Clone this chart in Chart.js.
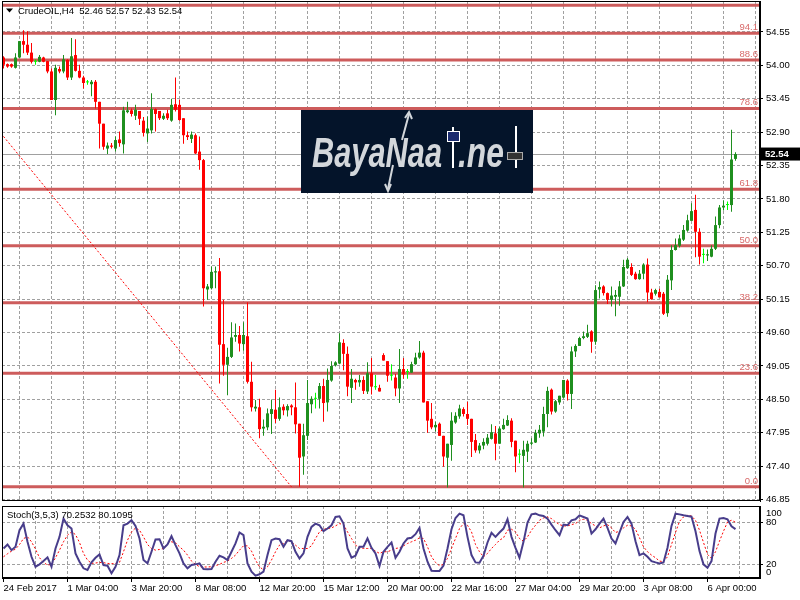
<!DOCTYPE html>
<html>
<head>
<meta charset="utf-8">
<script src="https://cdn.jsdelivr.net/npm/chart.js@4/dist/chart.umd.min.js"></script>
<style>
  html, body { margin: 0; padding: 0; background: #fff; }
  #wrap { position: relative; width: 800px; height: 600px; overflow: hidden; }
  #priceCanvas { position: absolute; left: 0; top: 0; }
  #stochCanvas { position: absolute; left: 0; top: 505px; background: #fff; }
</style>
</head>
<body>
<div id="wrap">
  <canvas id="priceCanvas" width="800" height="600"></canvas>
  <canvas id="stochCanvas" width="800" height="95"></canvas>
</div>
<script>
// CrudeOIL H4 candles, 24 Feb - 6 Apr 2017
const open = [
  54.13,54.02,54.02,53.96,54.13,54.40,54.34,54.21,54.06,54.06,
  54.13,54.07,53.90,53.43,53.94,53.90,54.09,53.80,54.17,53.91,
  53.80,53.72,53.69,53.73,53.40,53.04,52.63,52.68,52.63,52.78,
  52.70,53.23,53.26,53.17,53.25,53.09,52.88,52.93,53.28,53.25,
  53.12,53.21,53.09,53.36,53.35,53.13,52.85,52.79,52.85,52.58,
  52.44,50.31,50.33,50.59,50.61,49.41,49.07,49.20,49.53,49.56,
  49.41,49.54,48.79,48.35,48.37,48.02,48.04,48.26,48.33,48.18,
  48.38,48.32,48.40,48.37,48.10,47.56,47.90,48.42,48.51,48.51,
  48.72,48.45,48.81,49.06,49.09,49.43,49.25,48.69,48.82,48.78,
  48.82,48.63,48.93,48.70,48.69,49.23,49.13,48.89,48.86,48.68,
  49.00,48.95,48.94,49.08,49.19,49.27,48.47,48.18,48.04,48.10,
  47.90,47.54,47.75,48.12,48.22,48.34,48.26,48.18,47.83,47.66,
  47.74,47.77,47.85,47.94,47.77,48.01,48.07,48.15,47.82,47.59,
  47.57,47.64,47.77,47.79,47.94,47.97,48.26,48.66,48.30,48.45,
  48.53,48.81,48.59,49.29,49.38,49.51,49.53,49.62,49.45,50.31,
  50.36,50.25,50.14,50.19,50.19,50.36,50.66,50.68,50.57,50.48,
  50.57,50.72,50.26,50.24,50.27,50.24,49.92,50.46,50.96,51.03,
  51.13,51.28,51.44,51.62,51.26,50.88,50.87,50.85,50.98,51.37,
  51.66,51.70,51.70,52.46
];
const high = [
  54.15,54.03,54.03,54.20,54.40,54.58,54.56,54.37,54.10,54.17,
  54.14,54.07,53.95,54.01,53.98,54.17,54.10,54.45,54.43,54.01,
  53.83,53.76,53.76,53.76,53.40,53.04,52.73,52.72,52.83,52.91,
  53.32,53.40,53.29,53.35,53.25,53.15,53.16,53.54,53.29,53.25,
  53.21,53.27,53.45,53.80,53.44,53.13,52.91,52.91,52.88,52.83,
  52.46,50.40,50.69,50.69,50.83,50.14,49.35,49.77,49.75,49.71,
  49.77,50.10,49.12,48.49,48.51,48.17,48.35,48.50,48.66,48.53,
  48.42,48.42,48.42,48.78,48.10,48.10,48.82,48.55,48.61,48.77,
  48.84,49.01,49.13,49.13,49.59,49.49,49.37,49.00,48.84,48.90,
  48.88,49.11,49.18,48.90,48.74,49.26,49.13,49.08,48.92,49.33,
  49.18,49.00,49.12,49.27,49.46,49.30,48.47,48.44,48.13,48.12,
  47.90,47.77,48.29,48.29,48.41,48.37,48.46,48.18,47.93,47.78,
  47.86,47.93,48.09,48.06,48.05,48.18,48.24,48.19,47.82,47.68,
  47.82,47.82,47.86,48.00,48.08,48.38,48.71,48.68,48.49,48.56,
  48.82,48.83,49.37,49.41,49.53,49.62,49.73,49.64,50.38,50.44,
  50.38,50.26,50.36,50.30,50.45,50.80,50.83,50.74,50.60,50.63,
  50.74,50.82,50.32,50.32,50.32,50.27,50.55,51.04,51.15,51.21,
  51.37,51.54,51.73,51.87,51.32,50.98,50.97,51.04,51.51,51.70,
  51.78,51.76,52.94,52.57
];
const low = [
  53.95,53.96,53.96,53.95,54.12,54.20,54.17,54.03,54.01,54.05,
  54.05,53.87,53.43,53.18,53.87,53.87,53.76,53.76,53.90,53.79,
  53.62,53.68,53.49,53.29,52.63,52.61,52.54,52.63,52.58,52.66,
  52.55,53.21,53.16,53.10,53.02,52.83,52.74,52.88,52.91,53.10,
  53.10,53.10,53.07,53.24,53.09,52.71,52.77,52.72,52.54,52.28,
  50.03,50.14,50.31,50.33,48.76,48.89,48.57,49.18,49.45,49.29,
  49.30,48.76,48.30,48.30,47.86,47.90,47.99,47.93,48.11,48.15,
  48.24,48.22,48.24,47.94,47.06,47.26,47.83,48.27,48.35,48.35,
  48.13,48.30,48.79,49.04,49.08,48.98,48.55,48.44,48.66,48.71,
  48.59,48.59,48.58,48.66,48.63,49.14,48.79,48.81,48.55,48.44,
  48.84,48.84,48.94,49.07,49.17,48.45,47.95,48.01,47.97,47.90,
  47.39,47.05,47.49,48.10,48.18,48.22,48.08,47.55,47.62,47.61,
  47.68,47.74,47.84,47.50,47.77,48.00,48.06,47.71,47.30,47.45,
  47.05,47.47,47.74,47.78,47.87,47.89,48.04,48.25,48.28,48.41,
  48.52,48.48,48.34,49.20,49.38,49.49,49.51,49.27,49.40,50.16,
  50.21,50.07,50.03,49.87,50.04,50.35,50.65,50.53,50.47,50.47,
  50.48,50.10,50.14,50.21,50.18,49.89,49.86,50.30,50.95,51.00,
  51.11,51.26,51.44,50.84,50.72,50.74,50.78,50.84,50.96,51.32,
  51.61,51.62,51.59,52.43
];
const close = [
  54.01,53.98,53.98,54.13,54.40,54.34,54.21,54.06,54.06,54.14,
  54.06,53.90,53.43,53.96,53.90,54.10,53.80,54.15,53.91,53.80,
  53.71,53.72,53.73,53.40,53.04,52.66,52.68,52.66,52.77,52.72,
  53.26,53.26,53.20,53.27,53.12,52.89,52.96,53.28,53.20,53.13,
  53.17,53.13,53.35,53.27,53.10,52.85,52.82,52.86,52.55,52.44,
  50.33,50.36,50.60,50.61,49.40,49.07,49.20,49.52,49.56,49.42,
  49.56,48.79,48.37,48.38,48.01,48.05,48.27,48.34,48.18,48.37,
  48.32,48.39,48.37,48.09,47.54,47.91,48.44,48.51,48.51,48.72,
  48.44,48.82,49.05,49.11,49.44,49.25,48.71,48.84,48.78,48.82,
  48.64,48.93,48.71,48.70,48.63,49.14,48.89,48.89,48.68,49.00,
  48.91,48.95,49.08,49.19,49.27,48.45,48.15,48.04,48.08,47.90,
  47.56,47.77,48.15,48.23,48.35,48.26,48.18,47.80,47.66,47.74,
  47.80,47.87,47.96,47.77,48.02,48.08,48.16,47.80,47.56,47.59,
  47.67,47.77,47.79,47.95,48.00,48.26,48.64,48.30,48.47,48.56,
  48.82,48.59,49.29,49.38,49.51,49.54,49.59,49.45,50.30,50.35,
  50.25,50.14,50.21,50.22,50.36,50.68,50.80,50.55,50.48,50.57,
  50.72,50.26,50.15,50.30,50.18,49.91,50.47,50.96,51.04,51.15,
  51.29,51.45,51.60,51.26,50.85,50.88,50.89,50.98,51.37,51.66,
  51.69,51.70,52.45,52.54
];

// Stochastic(3,5,3): main line and signal line
const stochK = [
  42.4,48.1,40.0,44.8,68.6,78.1,52.0,30.5,16.2,19.6,
  24.3,29.6,16.2,42.4,59.1,85.3,75.7,71.0,35.3,23.4,
  13.9,11.5,22.4,29.1,33.9,18.6,17.7,6.7,16.2,32.9,
  75.7,78.1,82.9,74.8,56.7,25.8,21.0,37.7,55.3,55.7,
  42.4,48.1,60.0,47.2,35.3,21.0,13.9,18.6,19.6,21.0,
  12.9,12.4,12.9,23.4,32.0,29.6,25.8,37.7,49.6,65.3,
  61.5,21.0,9.1,3.4,5.3,9.1,32.9,54.3,56.7,55.7,
  44.8,54.3,52.9,37.7,28.1,35.3,59.1,73.4,78.1,75.7,
  67.2,71.0,75.7,87.6,88.6,78.1,42.4,29.1,32.0,44.8,
  44.8,56.7,43.4,35.3,17.2,37.7,44.8,51.0,29.1,37.7,
  49.6,56.7,57.7,62.9,71.9,42.4,23.4,10.5,10.1,10.1,
  17.7,42.4,70.0,86.2,92.4,90.0,59.1,32.9,22.4,22.0,
  32.0,51.0,64.8,59.1,65.3,71.0,84.3,59.1,43.4,29.1,
  51.9,79.5,91.4,92.4,90.0,89.1,85.3,76.7,68.6,61.5,
  76.7,75.7,82.9,84.3,90.0,87.6,85.3,63.8,70.0,78.1,
  85.3,71.9,56.7,49.6,65.3,80.5,87.6,78.1,52.9,32.9,
  35.3,30.5,24.3,22.4,21.0,22.4,43.4,74.8,92.4,91.4,
  90.0,89.1,88.1,67.2,38.6,19.6,14.8,24.3,63.8,85.3,
  86.2,84.3,74.3,70.2532
];
const stochD = [
  30.5,34.8,38.6,41.5,48.1,56.7,59.1,52.0,41.5,29.1,
  22.4,18.6,19.6,29.1,40.0,52.0,61.5,66.2,62.4,51.0,
  35.3,25.8,21.0,21.5,22.4,22.0,21.0,20.5,21.0,22.4,
  37.7,54.3,66.2,71.9,68.6,59.1,48.1,42.4,40.0,41.0,
  42.4,49.6,52.0,50.5,44.8,40.0,32.9,24.3,19.6,16.2,
  15.8,15.8,16.2,17.7,19.6,22.4,24.3,28.1,32.9,40.0,
  46.2,46.2,38.6,25.8,16.2,11.5,16.2,25.8,37.7,47.2,
  49.6,54.3,52.0,47.2,42.4,42.4,42.4,46.2,56.7,66.2,
  70.0,71.0,71.9,74.8,78.1,76.7,66.2,56.7,47.2,43.4,
  42.4,42.4,42.4,38.6,35.3,37.7,37.7,40.0,42.4,43.4,
  46.2,49.6,52.0,54.3,57.7,56.7,44.8,30.5,22.4,17.7,
  19.6,28.1,42.4,56.7,71.0,78.1,75.7,66.2,48.1,37.7,
  30.5,35.3,42.4,48.1,54.3,57.7,68.6,70.0,66.2,56.7,
  52.9,59.1,68.6,75.7,82.9,86.2,87.6,85.3,80.5,76.7,
  74.8,74.8,76.7,78.1,82.9,84.3,82.9,78.1,74.8,71.9,
  74.8,76.7,71.9,65.3,67.2,71.9,75.7,74.8,70.0,57.7,
  44.8,37.7,32.9,29.1,24.3,23.4,30.5,48.1,65.3,81.4,
  87.6,90.0,89.1,82.9,68.6,51.0,33.9,28.1,37.7,52.9,
  67.2,80.5,82.9,80.1095
];

// axis ticks and labels
const priceTicks = [46.85,47.40,47.95,48.50,49.05,49.60,50.15,50.70,51.25,51.80,52.35,52.90,53.45,54.00,54.55];
const timeLabels = ['24 Feb 2017','1 Mar 04:00','3 Mar 20:00','8 Mar 08:00','12 Mar 20:00','15 Mar 12:00',
                    '20 Mar 00:00','22 Mar 16:00','27 Mar 04:00','29 Mar 20:00','3 Apr 08:00','6 Apr 00:00'];
const stochLevels = [20, 80];
const stochBounds = [0, 100];

// fibonacci retracement and the trend line drawn on the chart
const fibLevels = [47.06, 48.93, 50.09, 51.03, 51.96, 53.29, 54.09, 54.53, 54.99];
const fibLabels = ['0.0', '23.6', '38.2', '50.0', '61.8', '78.6', '88.6', '94.1', '100.0'];
const trendBars = [0, 72];
const trendPrices = [52.83, 47.06];

const n = open.length;
if ([high, low, close, stochK, stochD].some(a => a.length !== n)) {
    throw new Error('array length mismatch: ' + [open, high, low, close, stochK, stochD].map(a => a.length).join(','));
}

const FONT = "'Liberation Sans', Arial, sans-serif";
const BULL = '#1f8f1f', BEAR = '#ff0000', DOJI = '#00ff00';
const GRID = '#a0a0a0', FIB = '#cd5c5c';
const X_MIN = -0.375, X_MAX = 189.125;   // 4px per bar
const BAR_STEP = 8, LABEL_STEP = 16;

const idx = open.map((_, i) => i);
const colors = idx.map(i => close[i] > open[i] ? BULL : (close[i] < open[i] ? BEAR : DOJI));
const gridBars = [];
for (let b = BAR_STEP; b < X_MAX; b += BAR_STEP) gridBars.push(b);

function drawLogo(ctx) {
    ctx.fillStyle = '#04142a';
    ctx.fillRect(301, 110, 232, 83);
    ctx.fillStyle = '#d3d7db';
    ctx.font = 'italic bold 42px ' + FONT;
    ctx.textBaseline = 'alphabetic';
    ctx.textAlign = 'left';
    let w = ctx.measureText('BayaNaa').width;
    ctx.save(); ctx.translate(312, 167); ctx.scale(130 / w, 1); ctx.fillText('BayaNaa', 0, 0); ctx.restore();
    w = ctx.measureText('.ne').width;
    ctx.save(); ctx.translate(458, 167); ctx.scale(46 / w, 1); ctx.fillText('.ne', 0, 0); ctx.restore();
    ctx.strokeStyle = '#d3d7db'; ctx.lineWidth = 2;
    ctx.beginPath(); ctx.moveTo(402, 140); ctx.lineTo(409, 114); ctx.stroke();
    ctx.beginPath(); ctx.moveTo(405, 118); ctx.lineTo(409, 112); ctx.lineTo(412, 119); ctx.stroke();
    ctx.beginPath(); ctx.moveTo(393, 165); ctx.lineTo(388, 189); ctx.stroke();
    ctx.beginPath(); ctx.moveTo(385, 184); ctx.lineTo(388, 191); ctx.lineTo(391, 184); ctx.stroke();
    ctx.fillStyle = '#ffffff';
    ctx.fillRect(452, 127, 2, 41);
    ctx.fillRect(515, 126, 2, 42);
    ctx.fillStyle = '#1a2a6e'; ctx.strokeStyle = '#ffffff'; ctx.lineWidth = 1;
    ctx.fillRect(447.5, 131.5, 12, 10); ctx.strokeRect(447.5, 131.5, 12, 10);
    ctx.fillStyle = '#333333'; ctx.strokeStyle = '#aaaaaa';
    ctx.fillRect(507.5, 152.5, 15, 7); ctx.strokeRect(507.5, 152.5, 15, 7);
}

// fib lines, current price line, watermark (under the candles)
const backdropPlugin = {
    id: 'backdrop',
    beforeDatasetsDraw(chart) {
        const {ctx, chartArea: a, scales: {y}} = chart;
        ctx.save();

        // current price line
        const py = Math.round(y.getPixelForValue(close[n - 1])) + 0.5;
        ctx.strokeStyle = GRID; ctx.lineWidth = 1;
        ctx.beginPath(); ctx.moveTo(a.left, py); ctx.lineTo(a.right, py); ctx.stroke();

        // fibonacci levels
        ctx.font = '9.5px ' + FONT;
        ctx.textAlign = 'right';
        ctx.textBaseline = 'alphabetic';
        fibLevels.forEach((lv, k) => {
            const fy = y.getPixelForValue(lv);
            ctx.strokeStyle = FIB; ctx.lineWidth = 3;
            ctx.beginPath(); ctx.moveTo(a.left, fy); ctx.lineTo(a.right, fy); ctx.stroke();
            if (fy - 12 > a.top) {
                ctx.fillStyle = '#d86a6a';
                ctx.fillText(fibLabels[k], a.right - 2, fy - 3);
            }
        });

        // watermark logo sits over the levels
        drawLogo(ctx);
        ctx.restore();
    },
    afterDraw(chart) {
        const {ctx, chartArea: a, scales: {y}} = chart;
        ctx.save();
        // frame
        ctx.strokeStyle = '#000'; ctx.lineWidth = 1;
        ctx.strokeRect(Math.floor(a.left) + 0.5, Math.floor(a.top) + 0.5,
                       Math.round(a.right - a.left) - 1, Math.round(a.bottom - a.top) - 1);
        // symbol title
        ctx.fillStyle = '#000';
        ctx.beginPath(); ctx.moveTo(6, 8.5); ctx.lineTo(13, 8.5); ctx.lineTo(9.5, 12.5); ctx.closePath(); ctx.fill();
        ctx.font = '9.5px ' + FONT;
        ctx.textBaseline = 'middle'; ctx.textAlign = 'left';
        ctx.fillText('CrudeOIL,H4  ' + [open, high, low, close].map(s => s[n - 1].toFixed(2)).join(' '), 18, 11);
        // last price tag
        const py = y.getPixelForValue(close[n - 1]);
        ctx.fillRect(a.right + 1, py - 6.5, 40, 13);
        ctx.fillStyle = '#fff';
        ctx.font = 'bold 9.5px ' + FONT;
        ctx.fillText(close[n - 1].toFixed(2), a.right + 5, py + 0.5);
        ctx.restore();
    }
};

new Chart(document.getElementById('priceCanvas'), {
    type: 'bar',
    data: {
        datasets: [
            {
                type: 'bar', label: 'body', order: 1,
                data: idx.map(i => ({x: i, y: [open[i], close[i]]})),
                backgroundColor: colors, borderWidth: 0, barThickness: 3,
                minBarLength: 1, grouped: false, inflateAmount: 0
            },
            {
                type: 'bar', label: 'wick', order: 2,
                data: idx.map(i => ({x: i, y: [low[i], high[i]]})),
                backgroundColor: colors, borderWidth: 0, barThickness: 1,
                grouped: false, inflateAmount: 0
            },
            {
                type: 'line', label: 'trend', order: 3,
                data: trendBars.map((b, k) => ({x: b, y: trendPrices[k]})),
                borderColor: '#ff0000', borderWidth: 1, borderDash: [2, 2],
                pointRadius: 0, fill: false
            }
        ]
    },
    options: {
        responsive: false,
        animation: false,
        layout: {padding: {left: 2, top: 1, right: 0, bottom: 99}},
        plugins: {legend: {display: false}, tooltip: {enabled: false}},
        scales: {
            x: {
                type: 'linear', min: X_MIN, max: X_MAX, offset: false,
                afterBuildTicks: s => { s.ticks = gridBars.map(v => ({value: v})); },
                afterFit: s => { s.height = 0; s.paddingLeft = 0; s.paddingRight = 0; },
                ticks: {display: false},
                grid: {color: GRID, drawTicks: false},
                border: {display: false, dash: [3, 2]}
            },
            y: {
                position: 'right', min: 46.827, max: 55.06,
                afterBuildTicks: s => { s.ticks = priceTicks.map(v => ({value: v})); },
                afterFit: s => { s.width = 40; s.paddingTop = 0; s.paddingBottom = 0; },
                ticks: {color: '#000', font: {family: FONT, size: 9.5}, padding: 3,
                        callback: v => Number(v).toFixed(2)},
                grid: {color: GRID, tickColor: '#000', tickLength: 3, tickBorderDash: []},
                border: {display: true, color: '#000', dash: [3, 2]}
            }
        }
    },
    plugins: [backdropPlugin]
});

// stochastic panel
const stochPlugin = {
    id: 'stochDecor',
    afterDraw(chart) {
        const {ctx, chartArea: a, scales: {y}} = chart;
        ctx.save();
        ctx.strokeStyle = '#000'; ctx.lineWidth = 1;
        ctx.strokeRect(Math.floor(a.left) + 0.5, Math.floor(a.top) + 0.5,
                       Math.round(a.right - a.left) - 1, Math.round(a.bottom - a.top) - 1);
        ctx.fillStyle = '#000';
        ctx.font = '9.5px ' + FONT;
        ctx.textBaseline = 'middle'; ctx.textAlign = 'left';
        ctx.fillText('Stoch(3,5,3) ' + stochK[n - 1].toFixed(4) + ' ' + stochD[n - 1].toFixed(4), 7, a.top + 9);
        stochBounds.forEach(v => {
            const ty = Math.min(Math.max(y.getPixelForValue(v), a.top + 7), a.bottom - 6);
            ctx.fillText(String(v), a.right + 6, ty);
        });
        ctx.restore();
    }
};

new Chart(document.getElementById('stochCanvas'), {
    type: 'line',
    data: {
        datasets: [
            {
                label: 'main', order: 1,
                data: idx.map(i => ({x: i, y: stochK[i]})),
                borderColor: '#483d8b', borderWidth: 2, pointRadius: 0, tension: 0
            },
            {
                label: 'signal', order: 2,
                data: idx.map(i => ({x: i, y: stochD[i]})),
                borderColor: '#ff0000', borderWidth: 1, borderDash: [2, 2], pointRadius: 0, tension: 0
            }
        ]
    },
    options: {
        responsive: false,
        animation: false,
        layout: {padding: {left: 2, top: 1, right: 0, bottom: 0}},
        plugins: {legend: {display: false}, tooltip: {enabled: false}},
        scales: {
            x: {
                type: 'linear', min: X_MIN, max: X_MAX, offset: false,
                afterBuildTicks: s => { s.ticks = [0].concat(gridBars).map(v => ({value: v})); },
                afterFit: s => { s.height = 22; s.paddingLeft = 0; s.paddingRight = 0; },
                ticks: {
                    autoSkip: false, maxRotation: 0, align: 'start', padding: 1,
                    color: '#000', font: {family: FONT, size: 9.5},
                    callback: v => (v % LABEL_STEP === 0 && v / LABEL_STEP < timeLabels.length) ? timeLabels[v / LABEL_STEP] : ''
                },
                grid: {
                    color: c => (c.tick && c.tick.value > 0) ? GRID : 'rgba(0,0,0,0)',
                    tickColor: c => (c.tick && c.tick.value % LABEL_STEP === 0) ? '#000' : 'rgba(0,0,0,0)',
                    tickLength: 4, tickBorderDash: []
                },
                border: {display: true, color: '#000', dash: [3, 2]}
            },
            y: {
                position: 'right', min: 0, max: 103.4,
                afterBuildTicks: s => { s.ticks = stochLevels.map(v => ({value: v})); },
                afterFit: s => { s.width = 40; s.paddingTop = 0; s.paddingBottom = 0; },
                ticks: {color: '#000', font: {family: FONT, size: 9.5}, padding: 3},
                grid: {color: GRID, tickColor: '#000', tickLength: 3, tickBorderDash: []},
                border: {display: true, color: '#000', dash: [3, 2]}
            }
        }
    },
    plugins: [stochPlugin]
});
</script>
</body>
</html>
